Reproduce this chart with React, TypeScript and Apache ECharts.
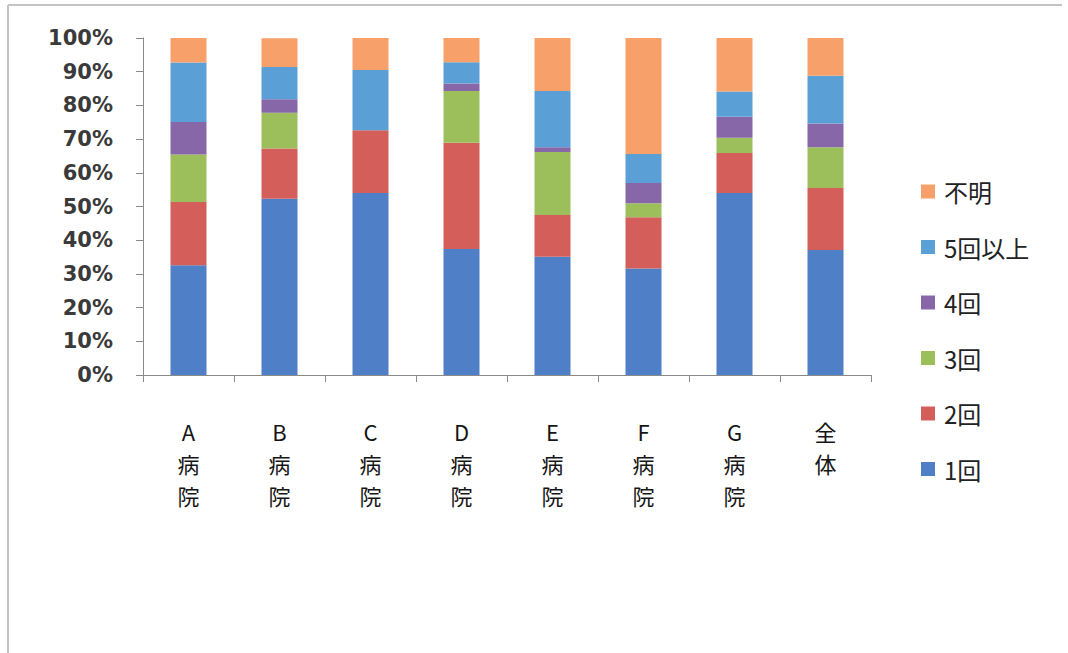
import React, { useEffect, useRef } from "react";
import * as echarts from "echarts";

const categories = ["A病院", "B病院", "C病院", "D病院", "E病院", "F病院", "G病院", "全体"];
const seriesNames = ["1回", "2回", "3回", "4回", "5回以上", "不明"];
const v1 = [32.6, 52.3, 54.0, 37.4, 35.1, 31.6, 54.0, 37.1];
const v2 = [18.7, 14.9, 18.6, 31.5, 12.4, 15.2, 11.9, 18.4];
const v3 = [14.1, 10.6, 0.0, 15.4, 18.7, 4.2, 4.5, 12.1];
const v4 = [9.7, 4.0, 0.0, 2.2, 1.4, 6.0, 6.2, 7.0];
const v5 = [17.6, 9.6, 17.9, 6.3, 16.7, 8.6, 7.5, 14.2];
const vUnknown = [7.3, 8.5, 9.5, 7.3, 15.7, 34.4, 16.0, 11.2];
const seriesValues = [v1, v2, v3, v4, v5, vUnknown];
const colors = ["#4F7FC6", "#D35E5A", "#9CBF5C", "#8767A8", "#5AA0D6", "#F8A06A"];
const legendOrder = ["不明", "5回以上", "4回", "3回", "2回", "1回"];

export default function App() {
  const ref = useRef<HTMLDivElement>(null);
  useEffect(() => {
    if (!ref.current) return;
    const chart = echarts.init(ref.current, undefined, { renderer: "svg" });
    chart.setOption({
      animation: false,
      backgroundColor: "#ffffff",
      grid: { left: 143, right: 197, top: 38, bottom: 278, containLabel: false },
      xAxis: {
        type: "category",
        data: categories,
        axisLine: { lineStyle: { color: "#8a8a8a", width: 1 } },
        axisTick: { show: true, alignWithLabel: false, length: 7, lineStyle: { color: "#8a8a8a" } },
        axisLabel: {
          margin: 40,
          interval: 0,
          fontFamily: "'Noto Sans CJK JP', sans-serif",
          fontSize: 22,
          lineHeight: 32,
          color: "#151515",
          formatter: (s: string) => s.split("").join("\n"),
        },
      },
      yAxis: {
        type: "value",
        min: 0,
        max: 100,
        interval: 10,
        splitLine: { show: false },
        axisLine: { show: true, lineStyle: { color: "#8a8a8a", width: 1 } },
        axisTick: { show: true, length: 7, lineStyle: { color: "#8a8a8a" } },
        axisLabel: {
          margin: 30,
          fontFamily: "'DejaVu Sans', sans-serif",
          fontWeight: "bold",
          fontSize: 21,
          color: "#3a3a3a",
          formatter: (v: number) => v + "%",
        },
      },
      legend: {
        orient: "vertical",
        left: 916,
        top: 174,
        data: legendOrder,
        itemWidth: 14,
        itemHeight: 14,
        itemGap: 30.5,
        icon: "rect",
        textStyle: {
          fontFamily: "'Noto Sans CJK JP', sans-serif",
          fontSize: 24,
          lineHeight: 25,
          color: "#222222",
          padding: [0, 0, 0, 4],
        },
      },
      graphic: [
        { type: "line", shape: { x1: 8, y1: 5, x2: 1062, y2: 5 }, style: { stroke: "#c4c4c4", lineWidth: 2 } },
        { type: "line", shape: { x1: 8, y1: 5, x2: 8, y2: 653 }, style: { stroke: "#c4c4c4", lineWidth: 2 } },
      ],
      series: seriesNames.map((name, i) => ({
        name,
        type: "bar",
        stack: "total",
        barWidth: 36,
        data: seriesValues[i],
        itemStyle: { color: colors[i] },
      })),
    });
    return () => chart.dispose();
  }, []);
  return (
    <div
      ref={ref}
      style={{ position: "fixed", left: 0, top: 0, width: 1068, height: 653 }}
    />
  );
}
